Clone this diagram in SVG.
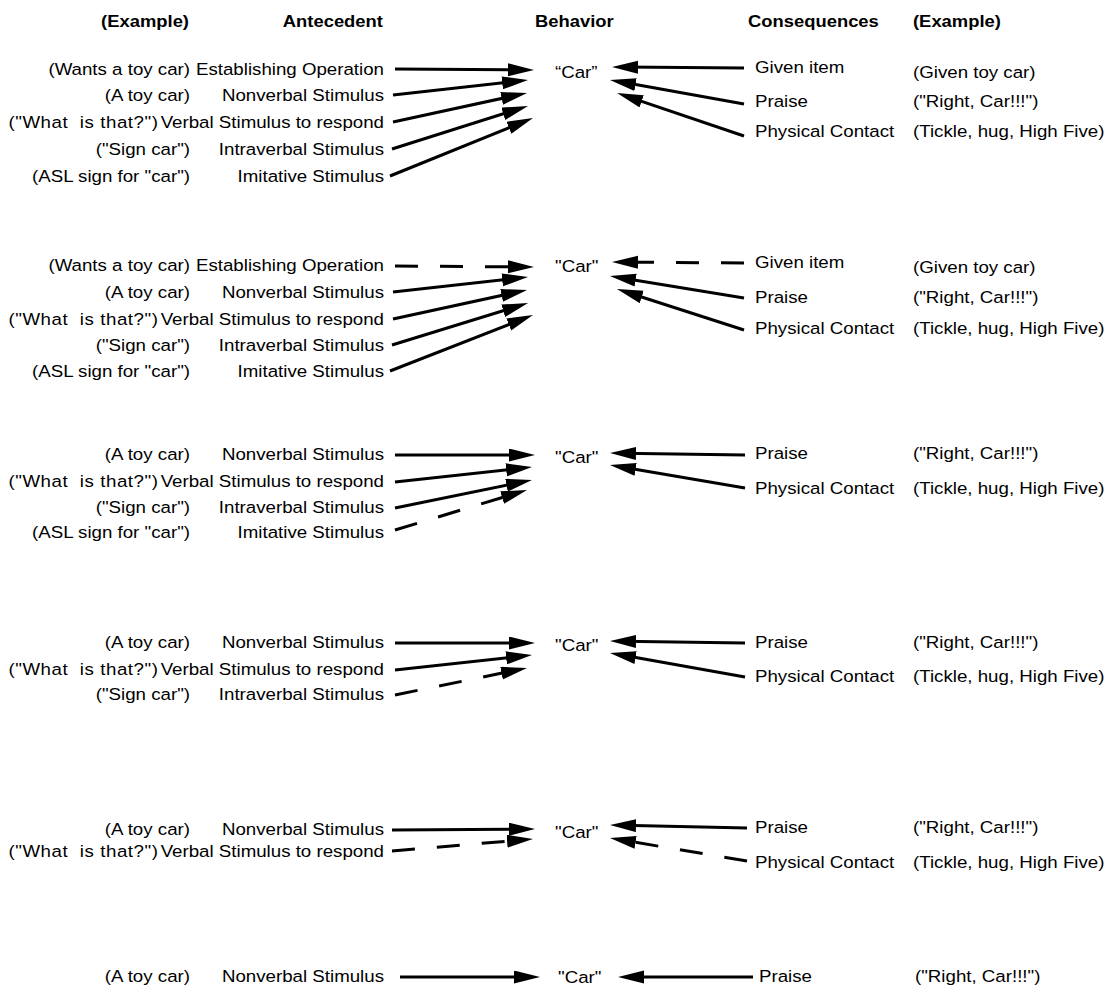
<svg xmlns="http://www.w3.org/2000/svg" width="1112" height="993" viewBox="0 0 1112 993">
<style>
text{font-family:"Liberation Sans",Arial,Helvetica,sans-serif;font-size:17px;fill:#000;transform-box:fill-box;transform:scaleX(1.1);transform-origin:0% 50%}
text.e{text-anchor:end;transform-origin:100% 50%}
text.h{font-weight:bold;font-size:16px;transform:scaleX(1.15)}
.pre{white-space:pre}
.c line,.c path{stroke:#000;stroke-width:3;fill:none;marker-end:url(#ah)}
.c .d{stroke-dasharray:23 22}
</style>
<defs>
<marker id="ah" markerUnits="userSpaceOnUse" markerWidth="28" markerHeight="14" refX="14" refY="6.5" orient="auto">
<path d="M0,0 L26,6.5 L0,13 Z" fill="#000"/>
</marker>
</defs>
<rect width="1112" height="993" fill="#fff"/>

<g id="headers">
<text class="h e" x="189" y="27">(Example)</text>
<text class="h e" x="383" y="27">Antecedent</text>
<text class="h" x="535" y="27">Behavior</text>
<text class="h" x="748" y="27">Consequences</text>
<text class="h" x="913" y="27">(Example)</text>
</g>

<!-- Section 1 -->
<g id="s1-eo"><text class="e" x="190" y="75">(Wants a toy car)</text><text class="e" x="384" y="75">Establishing Operation</text></g>
<g id="s1-nv"><text class="e" x="190" y="101">(A toy car)</text><text class="e" x="384" y="101">Nonverbal Stimulus</text></g>
<g id="s1-vs"><text class="e pre" x="158" y="128" textLength="136" lengthAdjust="spacing">("What  is that?")</text><text class="e" x="384" y="128">Verbal Stimulus to respond</text></g>
<g id="s1-iv"><text class="e" x="190" y="155">("Sign car")</text><text class="e" x="384" y="155">Intraverbal Stimulus</text></g>
<g id="s1-im"><text class="e" x="190" y="182">(ASL sign for "car")</text><text class="e" x="384" y="182">Imitative Stimulus</text></g>
<g id="s1-car"><text x="555" y="78">“Car”</text></g>
<g id="s1-gi"><text x="755" y="73">Given item</text><text x="913" y="78">(Given toy car)</text></g>
<g id="s1-pr"><text x="755" y="107">Praise</text><text x="913" y="107">("Right, Car!!!")</text></g>
<g id="s1-pc"><text x="755" y="137">Physical Contact</text><text x="913" y="137">(Tickle, hug, High Five)</text></g>

<!-- Section 2 -->
<g id="s2-eo"><text class="e" x="190" y="271">(Wants a toy car)</text><text class="e" x="384" y="271">Establishing Operation</text></g>
<g id="s2-nv"><text class="e" x="190" y="298">(A toy car)</text><text class="e" x="384" y="298">Nonverbal Stimulus</text></g>
<g id="s2-vs"><text class="e pre" x="158" y="325" textLength="136" lengthAdjust="spacing">("What  is that?")</text><text class="e" x="384" y="325">Verbal Stimulus to respond</text></g>
<g id="s2-iv"><text class="e" x="190" y="351">("Sign car")</text><text class="e" x="384" y="351">Intraverbal Stimulus</text></g>
<g id="s2-im"><text class="e" x="190" y="377">(ASL sign for "car")</text><text class="e" x="384" y="377">Imitative Stimulus</text></g>
<g id="s2-car"><text x="555" y="272">"Car"</text></g>
<g id="s2-gi"><text x="755" y="268">Given item</text><text x="913" y="273">(Given toy car)</text></g>
<g id="s2-pr"><text x="755" y="303">Praise</text><text x="913" y="303">("Right, Car!!!")</text></g>
<g id="s2-pc"><text x="755" y="334">Physical Contact</text><text x="913" y="334">(Tickle, hug, High Five)</text></g>

<!-- Section 3 -->
<g id="s3-nv"><text class="e" x="190" y="460">(A toy car)</text><text class="e" x="384" y="460">Nonverbal Stimulus</text></g>
<g id="s3-vs"><text class="e pre" x="158" y="487" textLength="136" lengthAdjust="spacing">("What  is that?")</text><text class="e" x="384" y="487">Verbal Stimulus to respond</text></g>
<g id="s3-iv"><text class="e" x="190" y="513">("Sign car")</text><text class="e" x="384" y="513">Intraverbal Stimulus</text></g>
<g id="s3-im"><text class="e" x="190" y="538">(ASL sign for "car")</text><text class="e" x="384" y="538">Imitative Stimulus</text></g>
<g id="s3-car"><text x="555" y="463">"Car"</text></g>
<g id="s3-pr"><text x="755" y="459">Praise</text><text x="913" y="459">("Right, Car!!!")</text></g>
<g id="s3-pc"><text x="755" y="494">Physical Contact</text><text x="913" y="494">(Tickle, hug, High Five)</text></g>

<!-- Section 4 -->
<g id="s4-nv"><text class="e" x="190" y="648">(A toy car)</text><text class="e" x="384" y="648">Nonverbal Stimulus</text></g>
<g id="s4-vs"><text class="e pre" x="158" y="675" textLength="136" lengthAdjust="spacing">("What  is that?")</text><text class="e" x="384" y="675">Verbal Stimulus to respond</text></g>
<g id="s4-iv"><text class="e" x="190" y="700">("Sign car")</text><text class="e" x="384" y="700">Intraverbal Stimulus</text></g>
<g id="s4-car"><text x="555" y="651">"Car"</text></g>
<g id="s4-pr"><text x="755" y="648">Praise</text><text x="913" y="648">("Right, Car!!!")</text></g>
<g id="s4-pc"><text x="755" y="682">Physical Contact</text><text x="913" y="682">(Tickle, hug, High Five)</text></g>

<!-- Section 5 -->
<g id="s5-nv"><text class="e" x="190" y="835">(A toy car)</text><text class="e" x="384" y="835">Nonverbal Stimulus</text></g>
<g id="s5-vs"><text class="e pre" x="158" y="857" textLength="136" lengthAdjust="spacing">("What  is that?")</text><text class="e" x="384" y="857">Verbal Stimulus to respond</text></g>
<g id="s5-car"><text x="555" y="838">"Car"</text></g>
<g id="s5-pr"><text x="755" y="833">Praise</text><text x="913" y="833">("Right, Car!!!")</text></g>
<g id="s5-pc"><text x="755" y="868">Physical Contact</text><text x="913" y="868">(Tickle, hug, High Five)</text></g>

<!-- Section 6 -->
<g id="s6-nv"><text class="e" x="190" y="982">(A toy car)</text><text class="e" x="384" y="982">Nonverbal Stimulus</text></g>
<g id="s6-car"><text x="558" y="983">"Car"</text></g>
<g id="s6-pr"><text x="759" y="982">Praise</text><text x="915" y="982">("Right, Car!!!")</text></g>

<g id="connectors" class="c">
<!-- S1 -->
<line x1="395" y1="69" x2="522" y2="69.9"/>
<line x1="393" y1="95" x2="516.1" y2="81.3"/>
<line x1="393" y1="122" x2="515.3" y2="95.5"/>
<line x1="392" y1="149" x2="516.6" y2="109.6"/>
<line x1="390" y1="176" x2="521.9" y2="122.5"/>
<line x1="744" y1="68" x2="624" y2="67.1"/>
<line x1="744" y1="104" x2="621.8" y2="82.1"/>
<line x1="744" y1="136" x2="628.4" y2="96.8"/>
<!-- S2 -->
<line class="d" x1="395" y1="266" x2="522" y2="266.9"/>
<line x1="393" y1="292" x2="516.1" y2="278.3"/>
<line x1="393" y1="319" x2="515.3" y2="292.5"/>
<line x1="392" y1="345" x2="516.6" y2="306.6"/>
<line x1="390" y1="371" x2="521.8" y2="319.4"/>
<line class="d" x1="744" y1="263" x2="624" y2="262.1"/>
<line x1="744" y1="298" x2="621.8" y2="277.9"/>
<line x1="744" y1="330" x2="628.4" y2="292.7"/>
<!-- S3 -->
<line x1="395" y1="455" x2="523" y2="455"/>
<line x1="395" y1="482" x2="520.1" y2="468.3"/>
<line x1="395" y1="508" x2="520.2" y2="482.4"/>
<line class="d" x1="395" y1="530" x2="515.5" y2="493.5"/>
<line x1="745" y1="455" x2="622" y2="453.2"/>
<line x1="745" y1="488" x2="621.8" y2="467"/>
<!-- S4 -->
<line x1="395" y1="643" x2="523" y2="643"/>
<line x1="395" y1="670" x2="520.1" y2="656.3"/>
<line class="d" x1="395" y1="695" x2="515.2" y2="670.4"/>
<line x1="745" y1="643" x2="622" y2="641.2"/>
<line x1="745" y1="677" x2="621.8" y2="655.1"/>
<!-- S5 -->
<line x1="392" y1="830" x2="523" y2="829.1"/>
<line class="d" x1="392" y1="851" x2="521" y2="840"/>
<line x1="747" y1="828" x2="622" y2="825.3"/>
<line class="d" x1="747" y1="861" x2="621.8" y2="840"/>
<!-- S6 -->
<line x1="400" y1="977" x2="528" y2="977"/>
<line x1="753" y1="977" x2="630" y2="977"/>
</g>
</svg>
